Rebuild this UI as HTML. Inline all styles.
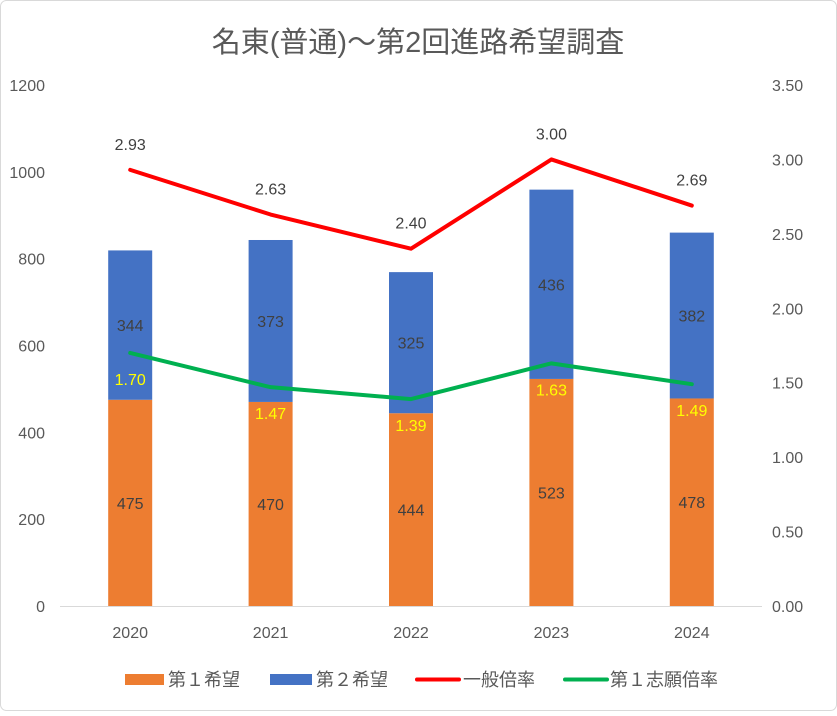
<!DOCTYPE html>
<html><head><meta charset="utf-8">
<style>
body{margin:0;background:#fff;}
svg text{font-family:"Liberation Sans","Noto Sans CJK JP",sans-serif;}
</style></head>
<body>
<svg id="c" width="837" height="711" xmlns="http://www.w3.org/2000/svg">
<rect x="0.5" y="0.5" width="836" height="710" rx="6" fill="#fff" stroke="#d9d9d9"/>
<text x="418" y="52" font-size="29" fill="#595959" text-anchor="middle">名東(普通)～第2回進路希望調査</text>
<g id="plot"></g>
<g>
<rect x="125" y="674" width="39" height="11" fill="#ED7D31"/>
<text x="168" y="686" font-size="18" fill="#595959">第１希望</text>
<rect x="270" y="674" width="42" height="11" fill="#4472C4"/>
<text x="316" y="686" font-size="18" fill="#595959">第２希望</text>
<line x1="417" y1="679.5" x2="459" y2="679.5" stroke="#FF0000" stroke-width="4" stroke-linecap="round"/>
<text x="463" y="686" font-size="18" fill="#595959">一般倍率</text>
<line x1="565" y1="679.5" x2="607" y2="679.5" stroke="#00B050" stroke-width="4" stroke-linecap="round"/>
<text x="610" y="686" font-size="18" fill="#595959">第１志願倍率</text>
</g>
</svg>
<script>
const categories=["2020","2021","2022","2023","2024"];
const firstChoice=[475,470,444,523,478];
const secondChoice=[344,373,325,436,382];
const generalRate=[2.93,2.63,2.40,3.00,2.69];
const firstRate=[1.70,1.47,1.39,1.63,1.49];
const leftTicks=[0,200,400,600,800,1000,1200];
const rightTicks=[0,0.5,1,1.5,2,2.5,3,3.5];

const NS="http://www.w3.org/2000/svg";
const g=document.getElementById('plot');
const X0=60,X1=762,Y0=606,Y1=85;
const yL=v=>Y0-(v/1200)*(Y0-Y1);
const yR=v=>Y0-(v/3.5)*(Y0-Y1);
const band=(X1-X0)/categories.length;
const xC=i=>X0+band*(i+0.5);
function mk(t,a,txt){const e=document.createElementNS(NS,t);for(const k in a)e.setAttribute(k,a[k]);if(txt!==undefined)e.textContent=txt;g.appendChild(e);return e;}

let e=mk('line',{x1:X0,x2:X1,y1:Y0+0.5,y2:Y0+0.5,stroke:'#d9d9d9'});


leftTicks.forEach(v=>{
 const t=mk('text',{x:45,y:yL(v)+6,'font-size':16,fill:'#595959','text-anchor':'end'},String(v));
 
 
});
rightTicks.forEach(v=>{
 const t=mk('text',{x:772,y:yR(v)+6,'font-size':16,fill:'#595959'},v.toFixed(2));
 
 
});
const bw=44;
categories.forEach((c,i)=>{
 const x=xC(i);
 const t=mk('text',{x:x,y:638,'font-size':16,fill:'#595959','text-anchor':'middle'},c);
 
 
 const a=firstChoice[i],b=secondChoice[i];
 const r1=mk('rect',{x:x-bw/2,y:yL(a),width:bw,height:Y0-yL(a),fill:'#ED7D31'});
 
 
 const r2=mk('rect',{x:x-bw/2,y:yL(a+b),width:bw,height:yL(a)-yL(a+b),fill:'#4472C4'});
 
 
 const l1=mk('text',{x:x,y:(yL(a)+Y0)/2+6,'font-size':16,fill:'#404040','text-anchor':'middle'},String(a));
 
 
 const l2=mk('text',{x:x,y:(yL(a)+yL(a+b))/2+6,'font-size':16,fill:'#404040','text-anchor':'middle'},String(b));
 
 
});
function line(vals,color,name){
 const p=mk('polyline',{points:vals.map((v,i)=>xC(i)+','+yR(v)).join(' '),fill:'none',stroke:color,'stroke-width':4,'stroke-linejoin':'round','stroke-linecap':'round'});
 
 
}
line(generalRate,'#FF0000','line-general-rate');
line(firstRate,'#00B050','line-first-rate');
generalRate.forEach((v,i)=>{
 const t=mk('text',{x:xC(i),y:yR(v)-20,'font-size':16,fill:'#404040','text-anchor':'middle'},v.toFixed(2));
 
 
});
firstRate.forEach((v,i)=>{
 const t=mk('text',{x:xC(i),y:yR(v)+32,'font-size':16,fill:'#FFFF00','text-anchor':'middle'},v.toFixed(2));
 
 
});
</script>
</body></html>
